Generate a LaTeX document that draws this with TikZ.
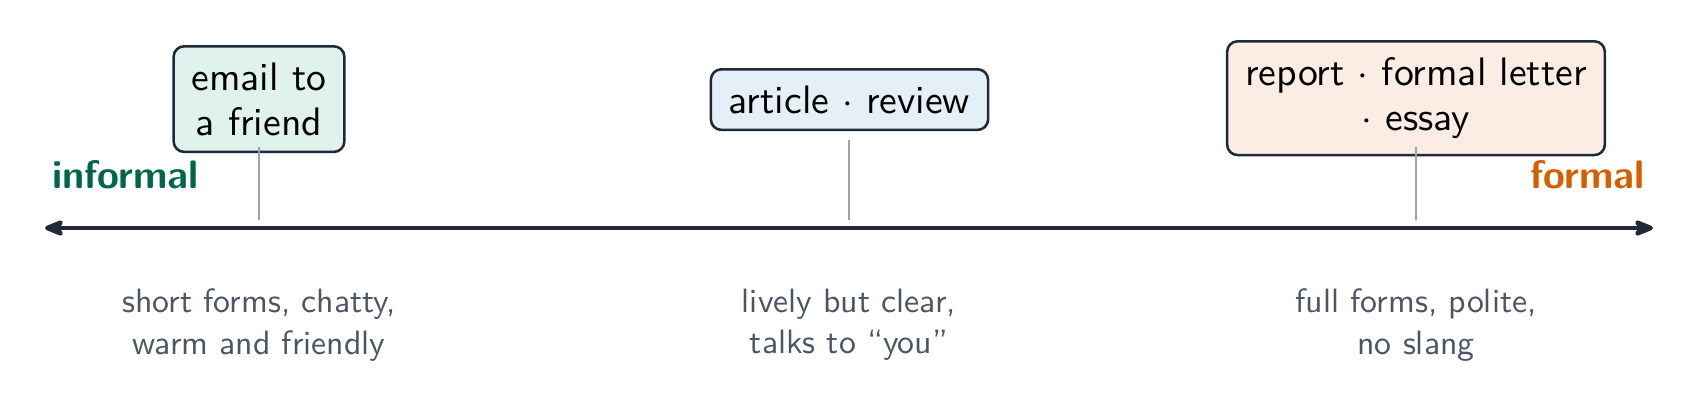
\documentclass[tikz,border=0pt]{standalone}
\usepackage{fontspec}
\usetikzlibrary{arrows.meta}
\newfontfamily\lmsten{lmsans10-regular.otf}[BoldFont=lmsans10-bold.otf]
\definecolor{ink}{HTML}{1F2937}
\definecolor{tickgray}{HTML}{9CA3AF}
\definecolor{note}{HTML}{4B5563}
\definecolor{infgreen}{HTML}{00664A}
\definecolor{forange}{HTML}{D55E00}
\definecolor{fillA}{HTML}{E0F2EE}
\definecolor{fillB}{HTML}{E4EFF7}
\definecolor{fillC}{HTML}{FBEDE3}
\begin{document}
\begin{tikzpicture}[x=0.01cm,y=-0.01cm,
  genre/.style={draw=ink, line width=0.72pt, rounded corners=3pt,
    inner xsep=0.18cm, inner ysep=0.163cm, align=center,
    font=\lmsten\fontsize{11.3}{12.8}\selectfont},
  pole/.style={font=\lmsten\bfseries\fontsize{11.3}{13}\selectfont, anchor=base, inner sep=0pt},
  notetext/.style={font=\lmsten\fontsize{9.6}{11.8}\selectfont, text=note, align=center, anchor=north, inner sep=0pt},
  axisline/.style={draw=ink, line width=1.3pt, {Stealth[length=7.5pt,width=6pt,round]}-{Stealth[length=7.5pt,width=6pt,round]}},
  tickline/.style={draw=tickgray, line width=0.65pt}]
\useasboundingbox (0,0) rectangle (1699,414);

% axis
\coordinate (L) at (45,228);
\coordinate (R) at (1653,228);
\draw[axisline] (L) -- (R);

% pole labels
\node[pole, text=infgreen] (inf) at (125.5,188) {informal};
\node[pole, text=forange] (form) at (1587.5,188) {formal};

% genre boxes
\node[genre, fill=fillA, anchor=north] (email) at (259,45) {email to\\a friend};
\node[genre, fill=fillB, anchor=north] (article) at (849.5,68) {article $\cdot$ review};
\node[genre, fill=fillC, anchor=north] (report) at (1416,40) {report $\cdot$ formal letter\\$\cdot$ essay};

% ticks
\coordinate (e0) at (259,220);  \coordinate (e1) at (259,147);
\coordinate (a0) at (849,220);  \coordinate (a1) at (849,140);
\coordinate (r0) at (1416,220); \coordinate (r1) at (1416,147);
\draw[tickline] (e0) -- (e1);
\draw[tickline] (a0) -- (a1);
\draw[tickline] (r0) -- (r1);

% notes
\node[notetext] (n1) at (259,288) {short forms, chatty,\\warm and friendly};
\node[notetext] (n2) at (849,288) {lively but clear,\\talks to “you”};
\node[notetext] (n3) at (1416,288) {full forms, polite,\\no slang};
\end{tikzpicture}
\end{document}
